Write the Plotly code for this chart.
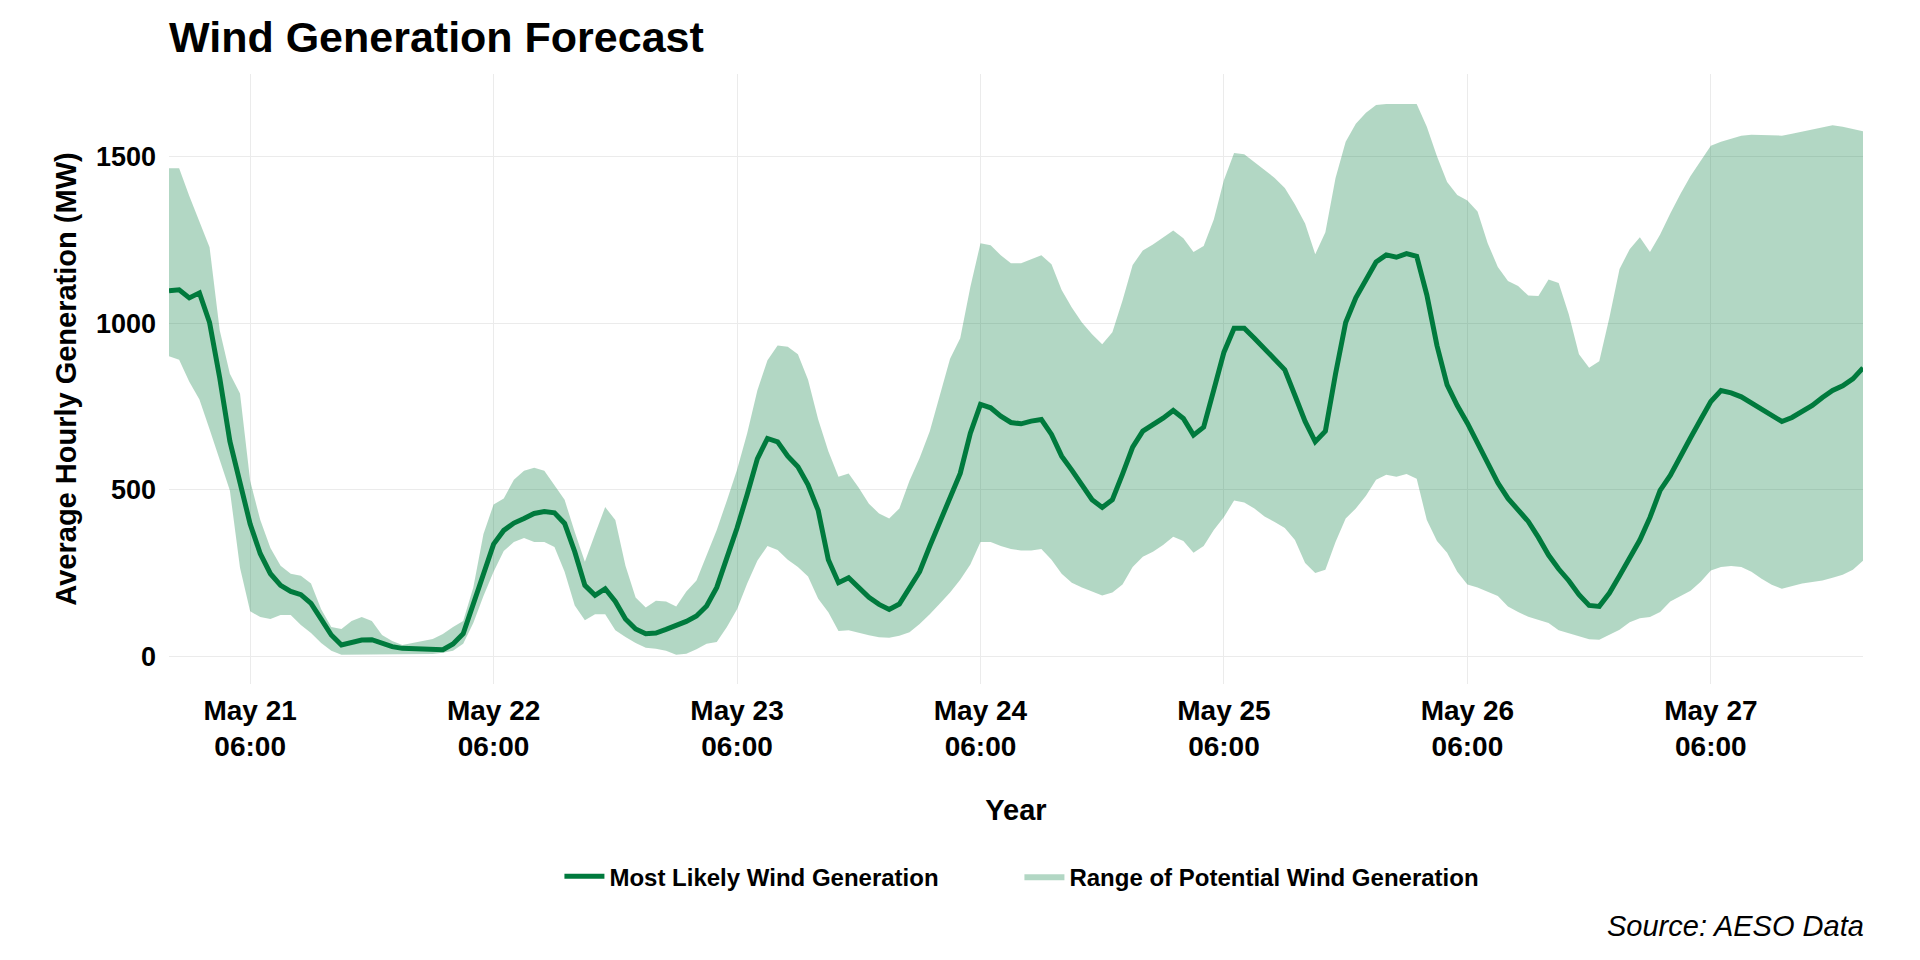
import pandas as pd
import plotly.graph_objects as go

START_TIME = "2024-05-20 22:00"
N_HOURS = 168

most_likely = [
    1097, 1100, 1076, 1091, 1002, 836, 646, 515, 397, 308, 248, 213, 195, 185, 159, 112, 64, 34, 40, 49, 50, 38, 29, 24, 23, 21, 19, 20,
    37, 68, 157, 252, 337, 378, 400, 414, 429, 435, 431, 399, 314, 213, 183, 203, 165, 112, 82, 68, 70, 81, 93, 105, 121, 151, 207, 292, 385,
    486, 593, 654, 644, 601, 569, 515, 438, 290, 221, 236, 207, 177, 156, 141, 157, 203, 254, 331, 405, 480, 549, 670, 756, 746, 721, 702, 698, 706,
    711, 666, 601, 559, 515, 470, 447, 470, 547, 628, 676, 694, 715, 738, 714, 664, 688, 800, 913, 985, 985, 955, 923, 891, 860, 783, 705, 644,
    676, 848, 1002, 1076, 1133, 1184, 1205, 1198, 1209, 1201, 1085, 933, 815, 753, 700, 640, 581, 521, 474, 438, 405, 357, 304, 262, 227, 185, 153, 150, 190,
    242, 296, 349, 417, 498, 543, 596, 656, 711, 765, 798, 791, 779, 761, 741, 722, 705, 717, 735, 753, 777, 798, 812, 833, 866,
]

range_upper = [
    1465, 1465, 1382, 1305, 1228, 979, 848, 789, 527, 409, 325, 272, 248, 242, 219, 141, 88, 82, 106, 118, 106, 64, 46, 34, 40, 46, 52, 67,
    88, 106, 207, 367, 456, 474, 530, 557, 566, 557, 513, 470, 373, 284, 367, 448, 409, 272, 177, 147, 167, 165, 150, 195, 228, 302, 379, 468, 560,
    670, 798, 889, 933, 929, 907, 830, 711, 616, 539, 549, 506, 458, 429, 414, 444, 527, 595, 676, 783, 893, 955, 1109, 1240, 1234, 1204, 1180, 1180, 1192,
    1204, 1177, 1100, 1047, 1002, 967, 937, 973, 1068, 1175, 1218, 1236, 1258, 1278, 1255, 1214, 1232, 1311, 1430, 1511, 1507, 1483, 1460, 1436, 1406, 1356, 1299, 1207,
    1273, 1436, 1545, 1599, 1632, 1655, 1658, 1658, 1658, 1658, 1590, 1501, 1424, 1385, 1368, 1335, 1240, 1169, 1127, 1112, 1083, 1082, 1131, 1121, 1026, 907, 866, 886, 1017,
    1163, 1222, 1258, 1214, 1266, 1329, 1388, 1442, 1489, 1533, 1545, 1553, 1563, 1566, 1565, 1563, 1563, 1569, 1575, 1581, 1588, 1594, 1590, 1584, 1576,
]

range_lower = [
    901, 890, 824, 771, 682, 587, 498, 266, 135, 118, 112, 124, 124, 94, 70, 40, 17, 5, 5, 5, 5, 5, 5, 5, 5, 5, 7, 11,
    17, 38, 100, 181, 254, 316, 343, 355, 343, 343, 328, 254, 153, 108, 126, 126, 78, 58, 40, 26, 23, 17, 5, 8, 21, 38, 43, 88, 141,
    219, 287, 331, 319, 290, 268, 240, 173, 132, 76, 78, 70, 63, 57, 56, 62, 72, 97, 126, 159, 192, 230, 276, 343, 343, 331, 322, 318, 318,
    322, 290, 248, 221, 207, 195, 183, 192, 216, 268, 299, 314, 334, 359, 346, 311, 331, 379, 418, 468, 462, 444, 420, 403, 385, 349, 280, 250,
    260, 343, 414, 444, 482, 530, 545, 539, 547, 533, 409, 346, 311, 254, 216, 207, 195, 181, 150, 133, 119, 109, 100, 78, 69, 59, 51, 50, 66,
    80, 102, 114, 118, 133, 165, 181, 197, 224, 258, 268, 271, 268, 254, 233, 215, 203, 210, 219, 223, 228, 236, 245, 260, 287,
]

TICK_TIMES = ["2024-05-21 06:00", "2024-05-22 06:00", "2024-05-23 06:00", "2024-05-24 06:00",
              "2024-05-25 06:00", "2024-05-26 06:00", "2024-05-27 06:00"]
TICK_LABELS = ["May 21<br>06:00", "May 22<br>06:00", "May 23<br>06:00", "May 24<br>06:00",
               "May 25<br>06:00", "May 26<br>06:00", "May 27<br>06:00"]
Y_TICKS = [0, 500, 1000, 1500]

times = pd.date_range(START_TIME, periods=N_HOURS, freq="h")

LINE_COLOR = "#007A3D"
FILL_COLOR = "rgba(0,122,61,0.30)"
FONT = "Liberation Sans, Arial, sans-serif"

fig = go.Figure()
fig.add_trace(go.Scatter(x=times, y=range_lower, mode="lines", line=dict(width=0),
                         showlegend=False, hoverinfo="skip"))
fig.add_trace(go.Scatter(x=times, y=range_upper, mode="lines", line=dict(width=0),
                         fill="tonexty", fillcolor=FILL_COLOR,
                         name="Range of Potential Wind Generation", legendrank=2))
fig.add_trace(go.Scatter(x=times, y=most_likely, mode="lines",
                         line=dict(color=LINE_COLOR, width=5),
                         name="Most Likely Wind Generation", legendrank=1, legendwidth=405))

fig.update_layout(
    width=1920, height=960,
    paper_bgcolor="white", plot_bgcolor="white",
    margin=dict(l=161, r=65, t=66, b=284, autoexpand=False),
    font=dict(family=FONT, color="black"),
    title=dict(text="Wind Generation Forecast", x=161/1920, xanchor="left", xref="container",
               y=1 - 29/960, yanchor="middle", yref="container",
               font=dict(size=43, weight="bold", color="black", family=FONT)),
    xaxis=dict(range=[times[0], times[-1]], tickvals=pd.to_datetime(TICK_TIMES), ticktext=TICK_LABELS,
               showgrid=True, gridcolor="#EBEBEB", gridwidth=1.3, zeroline=False, showline=False,
               ticks="", ticklabelstandoff=7,
               tickfont=dict(size=28, weight="bold", color="black"),
               title=dict(text="Year", standoff=38, font=dict(size=29, weight="bold", color="black"))),
    yaxis=dict(range=[-83, 1748], tickvals=Y_TICKS,
               showgrid=True, gridcolor="#EBEBEB", gridwidth=1.3, zeroline=False, showline=False,
               ticks="", ticklabelstandoff=12,
               tickfont=dict(size=27, weight="bold", color="black"),
               title=dict(text="Average Hourly Generation (MW)", standoff=10,
                          font=dict(size=29, weight="bold", color="black"))),
    legend=dict(orientation="h", x=0.5035, xanchor="center", y=-0.316, yanchor="middle",
                font=dict(size=24, weight="bold", color="black"), traceorder="normal",
                itemwidth=40, tracegroupgap=0),
    annotations=[dict(text="Source: AESO Data", xref="paper", yref="paper", x=1, y=-0.3965,
                      xanchor="right", yanchor="middle", showarrow=False, xshift=3,
                      font=dict(size=29, style="italic", color="black", family=FONT))],
)

fig.write_html("out.html")
